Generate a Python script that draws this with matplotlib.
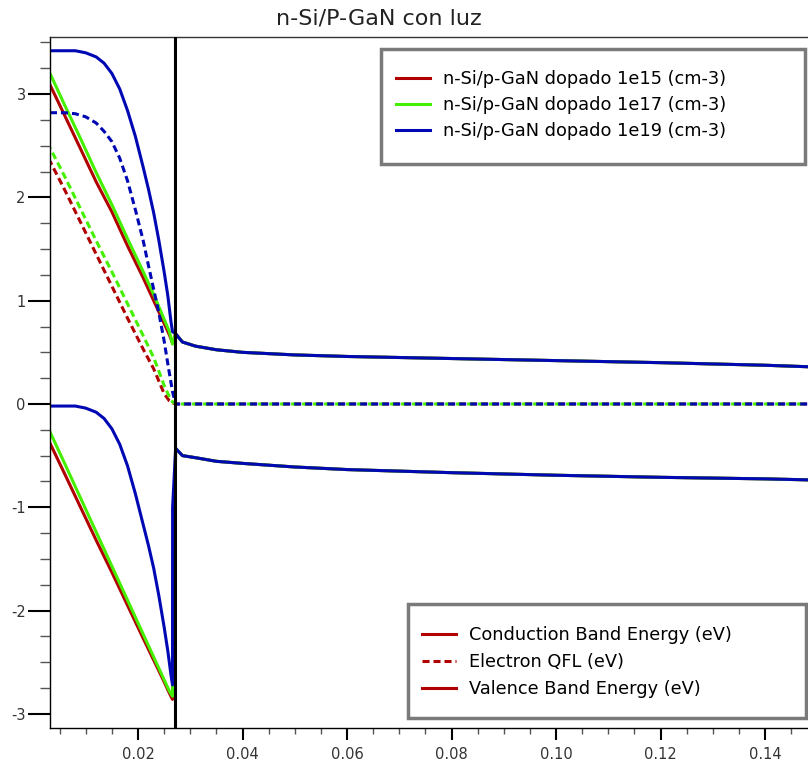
import matplotlib
matplotlib.use("Agg")
import matplotlib.pyplot as plt
from matplotlib.lines import Line2D
from matplotlib.patches import Rectangle
from matplotlib.ticker import MultipleLocator, FormatStrFormatter

plt.rcParams["axes.unicode_minus"] = False
plt.rcParams["font.family"] = ["DejaVu Sans"]

# ---------------------------------------------------------------------------
# Data (position in um, energy in eV)
# ---------------------------------------------------------------------------
JUNCTION_X = 0.0271

# p-GaN side, 1e15 / 1e17 curves are close to straight
x_left = [0.00316, 0.006, 0.009, 0.012, 0.015, 0.018, 0.021, 0.023, 0.025, 0.026, 0.0266]
# 1e19 curves bend, so they are sampled more finely
x_left_blue = [0.00316, 0.006, 0.008, 0.010, 0.012, 0.0135, 0.015, 0.0165, 0.018,
               0.0195, 0.021, 0.022, 0.023, 0.024, 0.025, 0.0257, 0.0263, 0.0266]
# n-Si side, identical for all three dopings
x_right = [0.0272, 0.0285, 0.031, 0.035, 0.04, 0.05, 0.06, 0.08, 0.10, 0.12, 0.14, 0.1485]

cb_right = [0.68, 0.60, 0.56, 0.525, 0.50, 0.475, 0.46, 0.44, 0.42, 0.40, 0.375, 0.36]
vb_right = [-0.43, -0.50, -0.52, -0.555, -0.575, -0.61, -0.635, -0.665, -0.69, -0.71, -0.725, -0.735]
qfl_right = [0.0, 0.0, 0.0, 0.0, 0.0, 0.0, 0.0, 0.0, 0.0, 0.0, 0.0, 0.0]

cb_1e15 = [3.09, 2.79, 2.47, 2.15, 1.86, 1.53, 1.22, 1.00, 0.78, 0.67, 0.59]
cb_1e17 = [3.20, 2.89, 2.57, 2.24, 1.93, 1.60, 1.28, 1.06, 0.82, 0.70, 0.58]
cb_1e19 = [3.42, 3.42, 3.42, 3.40, 3.36, 3.30, 3.20, 3.05, 2.84, 2.59, 2.29, 2.08,
           1.85, 1.58, 1.28, 1.05, 0.80, 0.70]

qfl_1e15 = [2.35, 2.07, 1.76, 1.45, 1.14, 0.83, 0.53, 0.34, 0.10, 0.03, 0.01]
qfl_1e17 = [2.48, 2.20, 1.89, 1.58, 1.28, 0.97, 0.66, 0.45, 0.18, 0.07, 0.02]
qfl_1e19 = [2.82, 2.82, 2.81, 2.78, 2.72, 2.64, 2.54, 2.38, 2.16, 1.88, 1.58, 1.34,
            1.11, 0.88, 0.61, 0.39, 0.21, 0.12]

vb_1e15 = [-0.38, -0.68, -1.00, -1.32, -1.63, -1.95, -2.27, -2.48, -2.69, -2.80, -2.86]
vb_1e17 = [-0.27, -0.58, -0.91, -1.24, -1.57, -1.90, -2.23, -2.45, -2.67, -2.78, -2.83]
vb_1e19 = [-0.02, -0.02, -0.02, -0.04, -0.08, -0.14, -0.24, -0.39, -0.60, -0.87, -1.17,
           -1.37, -1.59, -1.86, -2.16, -2.39, -2.62, -2.72]
# short vertical rise of the 1e19 valence band just left of the junction
vb_1e19_step_x = [0.02662]
vb_1e19_step_y = [-1.0]

series_labels = ["n-Si/p-GaN dopado 1e15 (cm-3)",
                 "n-Si/p-GaN dopado 1e17 (cm-3)",
                 "n-Si/p-GaN dopado 1e19 (cm-3)"]
band_labels = ["Conduction Band Energy (eV)", "Electron QFL (eV)", "Valence Band Energy (eV)"]

RED, GREEN, BLUE = "#b00000", "#44f000", "#0008b4"
LW = 2.2
DASH = (2.3, 1.3)

fig = plt.figure(figsize=(8.08, 7.63), dpi=100)
W, H = 808, 763
ax = fig.add_axes([50 / W, 35 / H, 758 / W, 691 / H])


def figbox(x0, y0, x1, y1):
    # pixel box (top-left origin) -> figure fraction (x, y, w, h)
    return (x0 / W, 1 - y1 / H, (x1 - x0) / W, (y1 - y0) / H)


curves = [
    (RED, x_left, cb_1e15, qfl_1e15, x_left, vb_1e15, 1.0),
    (GREEN, x_left, cb_1e17, qfl_1e17, x_left, vb_1e17, 1.8),
    (BLUE, x_left_blue, cb_1e19, qfl_1e19, x_left_blue + vb_1e19_step_x,
     vb_1e19 + vb_1e19_step_y, 0.0),
]

for c, xl, cb, qfl, xv, vb, off in curves:
    ax.plot(xl + x_right, cb + cb_right, color=c, lw=LW)
    ax.plot(xl + x_right, qfl + qfl_right, color=c, lw=LW, linestyle=(off, DASH))
    ax.plot(xv + x_right, vb + vb_right, color=c, lw=LW)

ax.axvline(JUNCTION_X, color="black", lw=2.2, zorder=4)

ax.set_xlim(0.00316, 0.1482)
ax.set_ylim(-3.137, 3.553)
ax.xaxis.set_major_locator(MultipleLocator(0.02))
ax.xaxis.set_minor_locator(MultipleLocator(0.005))
ax.xaxis.set_major_formatter(FormatStrFormatter("%.2f"))
ax.yaxis.set_major_locator(MultipleLocator(1))
ax.yaxis.set_minor_locator(MultipleLocator(0.25))
ax.yaxis.set_major_formatter(FormatStrFormatter("%d"))

ax.tick_params(axis="y", which="major", length=15.5, width=1.5, color="black",
               labelsize=10.5, labelcolor="#333333", pad=2)
ax.tick_params(axis="y", which="minor", length=7.5, width=1, color="#555555")
ax.tick_params(axis="x", which="major", length=8.5, width=1.5, color="black",
               labelsize=10.5, labelcolor="#333333", pad=5)
ax.tick_params(axis="x", which="minor", length=4.5, width=1, color="#555555")
ax.spines["right"].set_visible(False)
for s in ["left", "bottom", "top"]:
    ax.spines[s].set_linewidth(1)
ax.spines["top"].set_color("#333333")

fig.text(379 / W, 1 - 19 / H, "n-Si/P-GaN con luz", ha="center", va="center",
         fontsize=16, color="#222222")

# legend frames
for box in [(381, 49, 805, 164), (408, 604, 806, 718)]:
    x0, y0, w, h = figbox(*box)
    ax.add_patch(Rectangle((x0, y0), w, h, transform=fig.transFigure,
                           facecolor="white", edgecolor="#7a7a7a", lw=2.5,
                           zorder=5, clip_on=False))

LEG_FS = 12.8
h1 = [Line2D([], [], color=c, lw=LW) for c in (RED, GREEN, BLUE)]
leg1 = ax.legend(h1, series_labels, loc="upper left", frameon=False,
                 bbox_to_anchor=(396 / W, 1 - 70 / H), bbox_transform=fig.transFigure,
                 borderpad=0, borderaxespad=0, fontsize=LEG_FS, handlelength=1.9,
                 handletextpad=0.75, labelspacing=0.45)
leg1.set_zorder(6)
ax.add_artist(leg1)

h2 = [Line2D([], [], color=RED, lw=LW),
      Line2D([], [], color=RED, lw=LW, linestyle=(0, DASH)),
      Line2D([], [], color=RED, lw=LW)]
leg2 = ax.legend(h2, band_labels, loc="upper left", frameon=False,
                 bbox_to_anchor=(422 / W, 1 - 626 / H), bbox_transform=fig.transFigure,
                 borderpad=0, borderaxespad=0, fontsize=LEG_FS, handlelength=1.9,
                 handletextpad=0.75, labelspacing=0.5)
leg2.set_zorder(6)

fig.savefig("out.png", dpi=100)
